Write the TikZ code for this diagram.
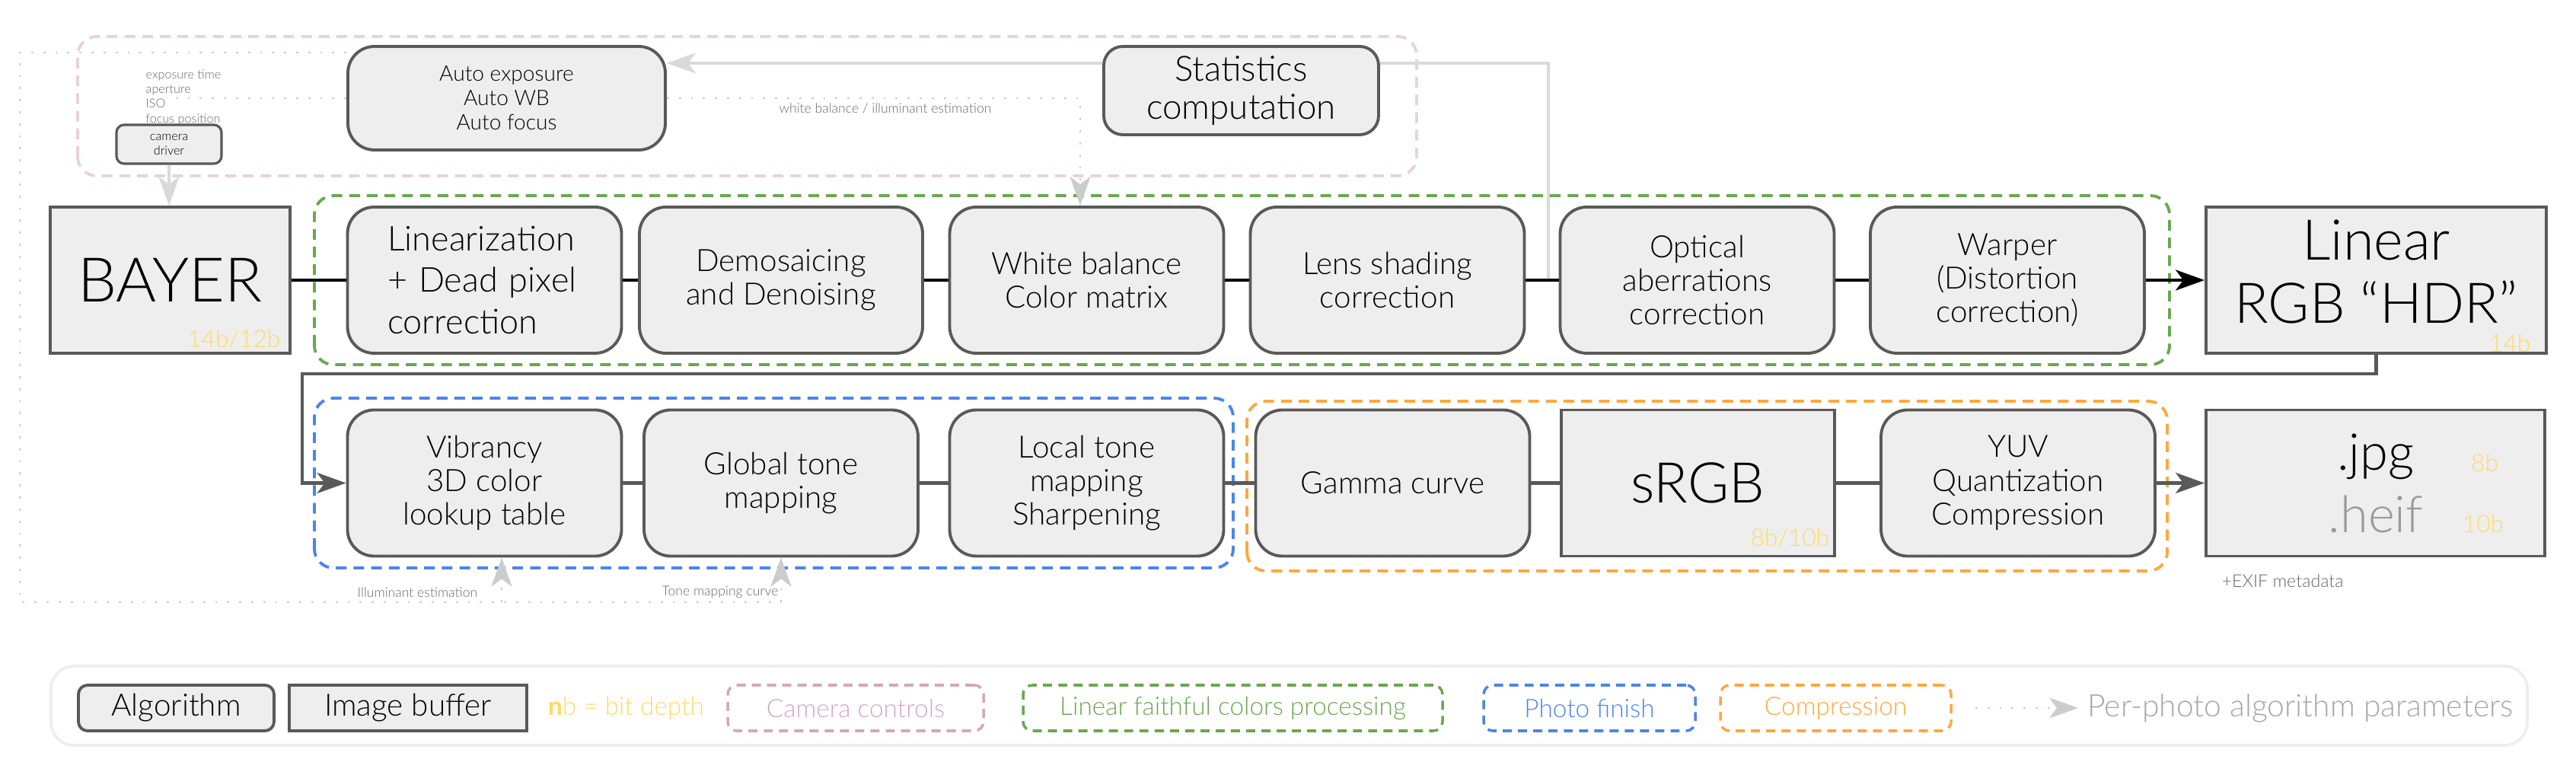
\documentclass[tikz,border=0pt]{standalone}
\usepackage{fontspec}
\setmainfont{Lato}[UprightFont={* Light}, BoldFont={* Bold}]
\usetikzlibrary{arrows.meta}

\definecolor{boxfill}{HTML}{EEEEEE}
\definecolor{boxline}{HTML}{595959}
\definecolor{paramgray}{HTML}{CCCCCC}
\definecolor{linegray}{HTML}{D9D9D9}
\definecolor{notegray}{HTML}{666666}
\definecolor{heifgray}{HTML}{999999}
\definecolor{legendgray}{HTML}{EEEEEE}
\definecolor{legendtext}{HTML}{A6A6A6}
\definecolor{bityellow}{HTML}{FFD966}
\definecolor{campink}{HTML}{EAD1DC}
\definecolor{campinktext}{HTML}{D5A6BD}
\definecolor{lingreen}{HTML}{6AA84F}
\definecolor{finblue}{HTML}{4A86E8}
\definecolor{comporange}{HTML}{FFA73D}

\begin{document}
\begin{tikzpicture}[
    algo/.style={draw=boxline, line width=1.1pt, fill=boxfill, rounded corners=3.5mm,
      minimum width=3.6cm, minimum height=1.92cm, align=center, inner sep=1pt,
      font=\fontsize{11.5}{12.6}\selectfont},
    buffer/.style={draw=boxline, line width=1.1pt, fill=boxfill, minimum width=4.47cm,
      minimum height=1.92cm, align=center, inner sep=1pt, font=\fontsize{21}{23.5}\selectfont},
    bits/.style={text=bityellow, inner sep=0pt, font=\fontsize{9}{10}\selectfont},
    note/.style={text=notegray, inner sep=0pt, font=\fontsize{4.6}{5.5}\selectfont},
    group/.style={line width=1.1pt, rounded corners=2.5mm, dash pattern=on 4pt off 2.6pt},
    keygroup/.style={line width=1pt, rounded corners=1.2mm, dash pattern=on 3.4pt off 2.3pt,
      minimum height=0.6cm, font=\fontsize{9.5}{11}\selectfont},
    flow/.style={line width=1.3pt},
    statline/.style={draw=linegray, line width=0.9pt},
    param/.style={draw=paramgray, line width=0.8pt, dash pattern=on 0.8pt off 3.7pt},
    arrowtip/.style={-{Stealth[length=3.8mm, width=2.7mm, inset=1mm]}}
  ]
  \useasboundingbox (0,0) rectangle (33.84,9.96);

  % groups
  \draw[group, draw=campink] (1.02,7.65) rectangle (18.61,9.48);
  \draw[group, draw=lingreen] (4.13,5.17) rectangle (28.50,7.39);
  \draw[group, draw=finblue] (4.13,2.50) rectangle (16.20,4.73);
  \draw[group, draw=comporange] (16.38,2.46) rectangle (28.47,4.69);

  % camera controls
  \node[algo, minimum width=4.17cm, minimum height=1.36cm, font=\fontsize{8}{9.1}\selectfont] (ae) at (6.655,8.67) {Auto exposure\\Auto WB\\Auto focus};
  \node[algo, minimum width=3.61cm, minimum height=1.16cm, rounded corners=2.5mm, font=\fontsize{13}{14}\selectfont] (stats) at (16.305,8.77) {Statistics\\computation};
  \node[algo, minimum width=1.38cm, minimum height=0.51cm, rounded corners=1mm, line width=0.9pt, font=\fontsize{4.6}{5.4}\selectfont] (driver) at (2.22,8.065) {camera\\driver};
  \node[note, anchor=north west, align=left] (ctrl) at (1.91,9.05) {exposure time\\aperture\\ISO\\focus position};
  \node[note, font=\fontsize{5}{6}\selectfont] (wbnote) at (11.63,8.54) {white balance / illuminant estimation};

  % first row
  \node[buffer, minimum width=3.15cm, font=\fontsize{23}{25}\selectfont] (bayer) at (2.235,6.28) {BAYER};
  \node[algo, text width=2.55cm, align=left, font=\fontsize{12.8}{15.5}\selectfont] (lin) at (6.365,6.28) {Linearization\\+ Dead pixel\\correction};
  \node[algo, minimum width=3.72cm] (demo) at (10.26,6.28) {Demosaicing\\and Denoising};
  \node[algo] (wb) at (14.275,6.28) {White balance\\Color matrix};
  \node[algo] (lens) at (18.225,6.28) {Lens shading\\correction};
  \node[algo] (optics) at (22.295,6.28) {Optical\\aberrations\\correction};
  \node[algo] (warp) at (26.37,6.28) {Warper\\(Distortion\\correction)};
  \node[buffer] (linrgb) at (31.215,6.28) {};
  \node[align=center, inner sep=0pt, font=\fontsize{21}{23.5}\selectfont] (linname) at (31.215,6.39) {Linear\\RGB “HDR”};
  \node[bits, anchor=south east] (bayerbits) at ([shift={(-0.14,0.07)}]bayer.south east) {14b/12b};
  \node[bits, anchor=south east] (linbits) at ([shift={(-0.22,0.03)}]linrgb.south east) {14b};

  % second row
  \node[algo] (vib) at (6.365,3.615) {Vibrancy\\3D color\\lookup table};
  \node[algo] (glob) at (10.26,3.615) {Global tone\\mapping};
  \node[algo] (local) at (14.275,3.615) {Local tone\\mapping\\Sharpening};
  \node[algo] (gamma) at (18.295,3.615) {Gamma curve};
  \node[buffer, minimum width=3.59cm] (srgb) at (22.305,3.615) {sRGB};
  \node[algo] (yuv) at (26.51,3.615) {YUV\\Quantization\\Compression};
  \node[buffer, minimum width=4.45cm] (jpg) at (31.205,3.615) {};
  \node[font=\fontsize{19}{20}\selectfont] (jpgname) at (31.21,3.96) {.jpg};
  \node[font=\fontsize{19}{20}\selectfont, text=heifgray] (heifname) at (31.21,3.21) {.heif};
  \node[bits, anchor=south east] (srgbbits) at ([shift={(-0.08,0.13)}]srgb.south east) {8b/10b};
  \node[bits] (jpgbits) at (32.64,3.88) {8b};
  \node[bits] (heifbits) at (32.62,3.08) {10b};
  \node[note, anchor=west, font=\fontsize{6.6}{7.5}\selectfont] (exif) at (29.18,2.33) {+EXIF metadata};
  \node[note, anchor=east, font=\fontsize{5}{6}\selectfont] (illumnote) at (6.28,2.18) {Illuminant estimation};
  \node[note, font=\fontsize{5}{6}\selectfont] (tonenote) at (9.46,2.18) {Tone mapping curve};

  % statistics feedback
  \coordinate (tap) at (20.34,6.28);
  \draw[statline] (tap) |- ([yshift=3.6mm]stats.east);
  \draw[statline, arrowtip] ([yshift=3.6mm]stats.west) -- ([yshift=3.6mm]stats.west -| ae.east);
  \draw[statline, arrowtip] (driver.south) -- (driver.south |- bayer.north);

  % per-photo parameters
  \coordinate (loop) at (0.26,2.05);
  \coordinate (illum) at (6.59,2.05);
  \coordinate (isoend) at (2.20,8.67);
  \draw[param, arrowtip] ([yshift=6mm]ae.west) -| (loop) -| (glob.south);
  \draw[param, arrowtip] (illum) -- (illum |- vib.south);
  \draw[param] (ae.west) -- (isoend);
  \draw[param, arrowtip] (ae.east) -| ([xshift=-0.85mm]wb.north);

  % pipeline
  \draw[flow] (bayer) -- (lin) -- (demo) -- (wb) -- (lens) -- (optics) -- (warp);
  \draw[flow, arrowtip] (warp) -- (linrgb);
  \coordinate (back) at (3.97,5.05);
  \draw[flow, draw=boxline, arrowtip] (linrgb.south) |- (back) |- (vib.west);
  \draw[flow, draw=boxline] (vib) -- (glob) -- (local) -- (gamma) -- (srgb) -- (yuv);
  \draw[flow, draw=boxline, arrowtip] (yuv) -- (jpg);

  % legend
  \draw[draw=legendgray, line width=1.1pt, rounded corners=3mm] (0.67,0.17) rectangle (33.20,1.21);
  \node[algo, minimum width=2.57cm, minimum height=0.6cm, rounded corners=1.2mm, font=\fontsize{11.5}{12}\selectfont] (keyalgo) at (2.315,0.66) {Algorithm};
  \node[buffer, minimum width=3.12cm, minimum height=0.6cm, font=\fontsize{11.5}{12}\selectfont] (keybuf) at (5.36,0.66) {Image buffer};
  \node[text=bityellow, font=\fontsize{9.5}{12}\selectfont] (keybits) at (8.225,0.66) {\textbf{n}b = bit depth};
  \node[keygroup, draw=campinktext, text=campinktext, minimum width=3.36cm] (keycam) at (11.24,0.66) {Camera controls};
  \node[keygroup, draw=lingreen, text=lingreen, minimum width=5.51cm] (keylin) at (16.195,0.66) {Linear faithful colors processing};
  \node[keygroup, draw=finblue, text=finblue, minimum width=2.78cm] (keyfin) at (20.88,0.66) {Photo finish};
  \node[keygroup, draw=comporange, text=comporange, minimum width=3.03cm] (keycomp) at (24.115,0.66) {Compression};
  \coordinate (keyfrom) at (25.95,0.66);
  \node[anchor=west, text=legendtext, font=\fontsize{11.6}{13}\selectfont] (keyparam) at (27.3,0.66) {Per-photo algorithm parameters};
  \draw[param, arrowtip] (keyfrom) -- (keyparam.west);
\end{tikzpicture}
\end{document}
